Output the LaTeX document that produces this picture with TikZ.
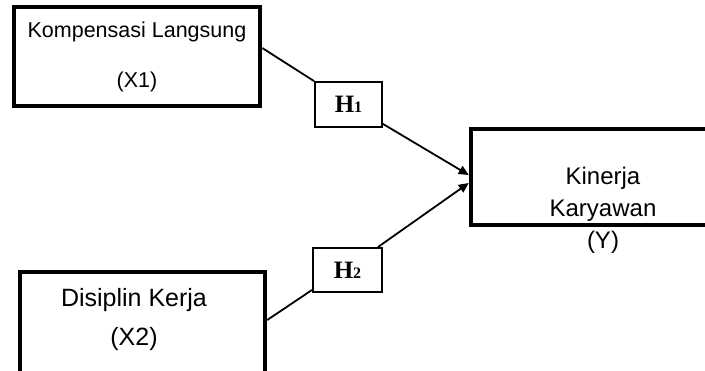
\documentclass[tikz,border=0pt]{standalone}
\usepackage{fontspec}
\setmainfont{Liberation Sans}
\newfontfamily\hfont{Liberation Serif}
\usetikzlibrary{arrows.meta}
\begin{document}
\begin{tikzpicture}[x=1pt,y=-1pt,
  varbox/.style={draw, line width=4.5pt, rectangle, inner sep=0pt},
  hbox/.style={draw, line width=1.8pt, rectangle, inner sep=0pt, font=\hfont\bfseries\fontsize{25}{25}\selectfont},
  conn/.style={line width=1.8pt},
  arr/.style={conn, -{Triangle[length=10pt,width=9pt]}}]
\useasboundingbox (0,0) rectangle (705,370);

\node[varbox, minimum width=246pt, minimum height=99pt, align=center, font=\fontsize{21.5}{50}\selectfont] (x1) at (137,56.5) {Kompensasi Langsung\\(X1)};

\node[varbox, minimum width=249pt, minimum height=96pt] (y) at (595.5,177) {};
\node[align=center, font=\fontsize{24}{32}\selectfont, inner sep=0pt] (ytext) at (603,210.5) {Kinerja\\Karyawan\\(Y)};

\node[varbox, minimum width=245pt, minimum height=128pt] (x2) at (142.5,336) {};
\node[align=center, font=\fontsize{25}{39}\selectfont, inner sep=0pt] (x2text) at (134,320) {Disiplin Kerja\\(X2)};

\node[hbox, minimum width=67pt, minimum height=45pt] (h1) at (348.5,104.5) {H{\fontsize{16}{16}\selectfont 1}};
\node[hbox, minimum width=69pt, minimum height=44pt] (h2) at (347.5,270) {H{\fontsize{16}{16}\selectfont 2}};

\draw[conn] ([yshift=8.5pt]x1.east) -- (h1.north west);
\draw[arr] ([yshift=4pt]h1.south east) -- ([yshift=2pt]y.west);
\draw[conn] ([yshift=16pt]x2.east) -- ([yshift=3pt]h2.south west);
\draw[arr] ([xshift=-5pt]h2.north east) -- ([yshift=-6pt]y.west);
\end{tikzpicture}
\end{document}
